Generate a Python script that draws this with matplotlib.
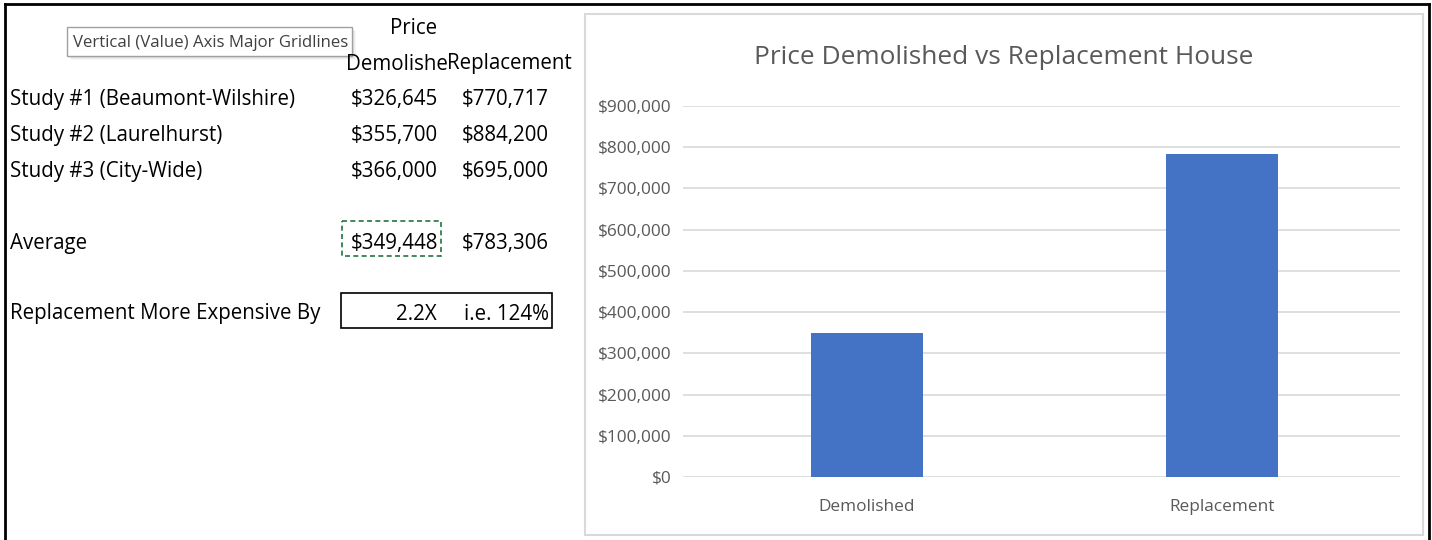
import matplotlib
matplotlib.use('Agg')
import matplotlib.pyplot as plt
from matplotlib.patches import Rectangle
from matplotlib.ticker import FuncFormatter

# data from the sheet
studies = ['Study #1 (Beaumont-Wilshire)', 'Study #2 (Laurelhurst)', 'Study #3 (City-Wide)']
demolished = [326645, 355700, 366000]
replacement = [770717, 884200, 695000]
categories = ['Demolished', 'Replacement']
averages = [349448, 783306]
ratio_text = ['2.2X', 'i.e. 124%']
tooltip = 'Vertical (Value) Axis Major Gridlines'

plt.rcParams['font.family'] = ['Open Sans', 'DejaVu Sans']

W, H = 1432, 540
fig = plt.figure(figsize=(W / 100, H / 100), dpi=100)
bg = fig.add_axes([0, 0, 1, 1])
bg.set_xlim(0, W)
bg.set_ylim(H, 0)
bg.axis('off')

def money(v):
    return '${:,.0f}'.format(v)

# outer black border (top, left, right)
bg.plot([5, 1429], [4, 4], color='black', lw=2)
bg.plot([5, 5], [4, 540], color='black', lw=2)
bg.plot([1429, 1429], [4, 540], color='black', lw=2)

fs = 14.8
dy = 2
# headers (the cell text is cut off in the sheet)
bg.text(414, 26 + dy, 'Price', fontsize=fs, ha='center', va='center')
bg.text(346, 62 + dy, 'Demolishe', fontsize=fs, ha='left', va='center')
bg.text(447, 62 + dy, 'Replacement', fontsize=fs, ha='left', va='center')

rows_y = [98, 133, 169]
for y, name, d, r in zip(rows_y, studies, demolished, replacement):
    bg.text(10, y + dy, name, fontsize=fs, ha='left', va='center')
    bg.text(438, y + dy, money(d), fontsize=fs, ha='right', va='center')
    bg.text(549, y + dy, money(r), fontsize=fs, ha='right', va='center')

bg.text(10, 241 + dy, 'Average', fontsize=fs, ha='left', va='center')
bg.text(438, 241 + dy, money(averages[0]), fontsize=fs, ha='right', va='center')
bg.text(549, 241 + dy, money(averages[1]), fontsize=fs, ha='right', va='center')
bg.add_patch(Rectangle((342, 221), 99, 35, fill=False, ec='#217346', lw=1.2, ls=(0, (3, 2))))

bg.text(10, 312 + dy, 'Replacement More Expensive By', fontsize=fs, ha='left', va='center')
bg.add_patch(Rectangle((341, 293), 211, 35, fill=False, ec='black', lw=1.2))
bg.text(437, 312 + dy, ratio_text[0], fontsize=fs, ha='right', va='center')
bg.text(549, 312 + dy, ratio_text[1], fontsize=fs, ha='right', va='center')

# tooltip
for i, a in enumerate([0.05, 0.04, 0.03]):
    bg.add_patch(Rectangle((67 + 2 + i, 27 + 2 + i), 285, 29, fc='black', ec='none', alpha=a))
bg.add_patch(Rectangle((67, 27), 285, 29, fc='white', ec='#a0a0a0', lw=1))
bg.text(73, 43, tooltip, fontsize=12.1, ha='left', va='center', color='#404040')

# chart frame
bg.add_patch(Rectangle((585, 14), 838, 521, fill=False, ec='#d9d9d9', lw=1.5))
bg.text(1004, 58, 'Price Demolished vs Replacement House', fontsize=18.9,
        ha='center', va='center', color='#595959')

ax = fig.add_axes([683 / W, 1 - 477 / H, (1400 - 683) / W, 371 / H])
ax.bar(range(len(categories)), averages, width=0.315, color='#4472c4', zorder=3)
ax.set_xlim(-0.518, 1.501)
ax.set_ylim(0, 900000)
ax.set_yticks(range(0, 900001, 100000))
ax.yaxis.set_major_formatter(FuncFormatter(lambda v, p: money(v)))
ax.set_xticks(range(len(categories)))
ax.set_xticklabels(categories)
ax.grid(axis='y', color='#d9d9d9', lw=1.2, zorder=0)
for s in ax.spines.values():
    s.set_visible(False)
ax.tick_params(length=0, labelsize=12.4, colors='#595959')
ax.tick_params(axis='y', pad=8)
ax.tick_params(axis='x', pad=16)
ax.patch.set_alpha(0)

fig.savefig('out.png', dpi=100)
